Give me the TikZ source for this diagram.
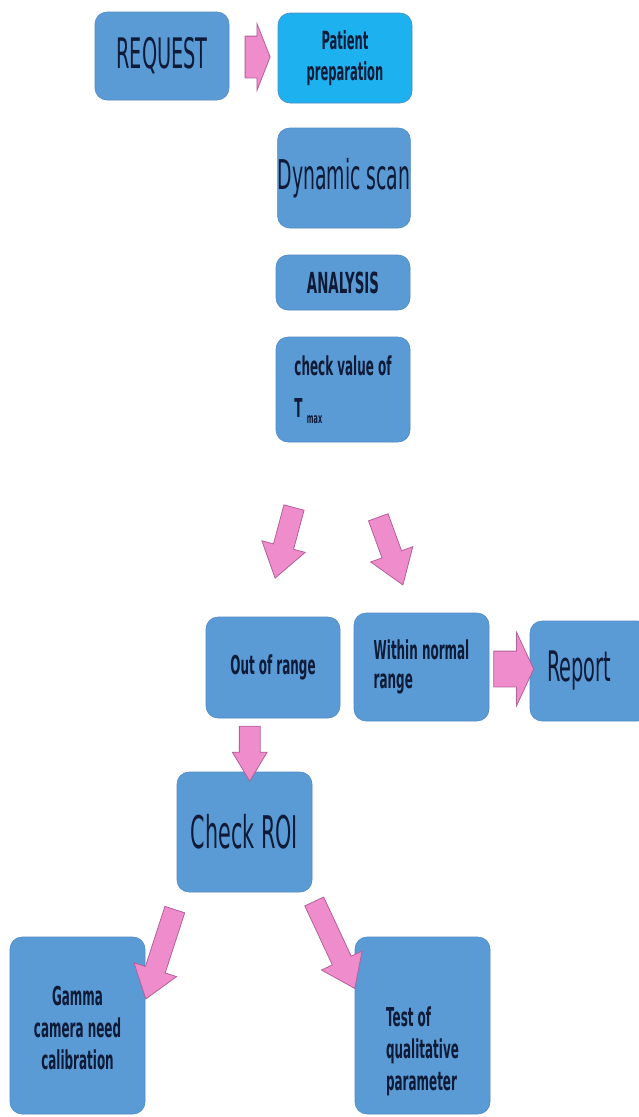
\documentclass[tikz,border=0pt]{standalone}
\usepackage{fontspec}
\setmainfont{DejaVu Sans}[FakeStretch=0.46]
\usetikzlibrary{shapes.arrows,positioning,calc}
\definecolor{boxblue}{HTML}{5B9BD5}
\definecolor{boxedge}{HTML}{4F8AC4}
\definecolor{prepblue}{HTML}{1DB2EF}
\definecolor{arrowpink}{HTML}{EF8CCB}
\definecolor{arrowedge}{HTML}{B4609A}
\definecolor{txt}{HTML}{0E1A36}
\tikzset{
  box/.style={rounded corners=12pt,fill=boxblue,draw=boxedge,line width=0.6pt,text=txt,inner sep=0pt},
  bigtxt/.style={font=\fontsize{42}{50}\selectfont},
  boldtxt/.style={font=\fontsize{26}{32}\selectfont\bfseries},
  pinkarrow/.style={single arrow,fill=arrowpink,draw=arrowedge,line width=0.8pt,inner sep=0pt}
}
\begin{document}
\begin{tikzpicture}[x=1pt,y=-1pt]
\clip(0,0)rectangle(639,1117);
%boxes
\node[box,bigtxt,minimum width=134pt,minimum height=88pt](request)at(162,56){REQUEST};
\node[box,fill=prepblue,font=\fontsize{25}{31}\selectfont\bfseries,align=center,minimum width=134pt,minimum height=90pt](prep)at(345,58){Patient\\preparation};
\node[box,font=\fontsize{41}{49}\selectfont,minimum width=132pt,minimum height=100pt](dyn)at(344,178){Dynamic scan};
\node[box,font=\fontsize{29}{34}\selectfont\bfseries,minimum width=134pt,minimum height=55pt](analysis)at(343,282.5){ANALYSIS};
\node[box,boldtxt,align=left,minimum width=134pt,minimum height=105pt](check)at(343,389.5){check value of\\[10pt]T\,\raisebox{-6pt}{\fontsize{14}{14}\selectfont max}};
\node[box,boldtxt,minimum width=134pt,minimum height=101pt](out)at(273,667.5){Out of range};
\node[box,font=\fontsize{26}{29}\selectfont\bfseries,align=left,minimum width=135pt,minimum height=108pt](within)at(421.5,667){Within normal\\range};
\node[box,bigtxt,text width=86pt,inner xsep=17pt,align=left,minimum height=100pt](report)at(590,671){Report};
\node[box,font=\fontsize{45}{54}\selectfont,minimum width=135pt,minimum height=120pt](roi)at(244.5,832){Check ROI};
\node[box,minimum width=135pt,minimum height=177pt](gamma)at(77.5,1025.5){};
\node[box,minimum width=135pt,minimum height=177pt](test)at(422.5,1025.5){};
\node[boldtxt,text=txt,align=center,below=46pt of gamma.north](gammatext){Gamma\\camera need\\calibration};
\node[boldtxt,text=txt,align=left,below=66pt of test.north](testtext){Test of\\qualitative\\parameter};
%arrows
\node[pinkarrow,minimum height=25pt,inner ysep=20.5pt,single arrow head extend=12.5pt,single arrow tip angle=137](a1)at($(request.east)!0.5!(prep.west)$){};
\node[pinkarrow,minimum height=40pt,inner ysep=17.5pt,single arrow head extend=19pt,single arrow tip angle=130](a2)at($(within.east)!0.5!(report.west)$){};
\node[pinkarrow,rotate=-90,minimum height=55pt,inner ysep=10pt,single arrow head extend=7pt,single arrow tip angle=62](a3)at($(out.south)!0.5!(roi.north)+(-9,0)$){};
\node[pinkarrow,rotate=255,minimum height=73pt,inner ysep=10pt,single arrow head extend=12pt,single arrow tip angle=69](a4)at(286.5,535.5){};
\node[pinkarrow,rotate=-70,minimum height=72pt,inner ysep=10pt,single arrow head extend=12pt,single arrow tip angle=69](a5)at(388,544){};
\node[pinkarrow,rotate=252,minimum height=94pt,inner ysep=10pt,single arrow head extend=12pt,single arrow tip angle=72](a6)at(162.5,947.5){};
\node[pinkarrow,rotate=-65,minimum height=96pt,inner ysep=10pt,single arrow head extend=12pt,single arrow tip angle=72](a7)at(331.5,938.5){};
\end{tikzpicture}
\end{document}
